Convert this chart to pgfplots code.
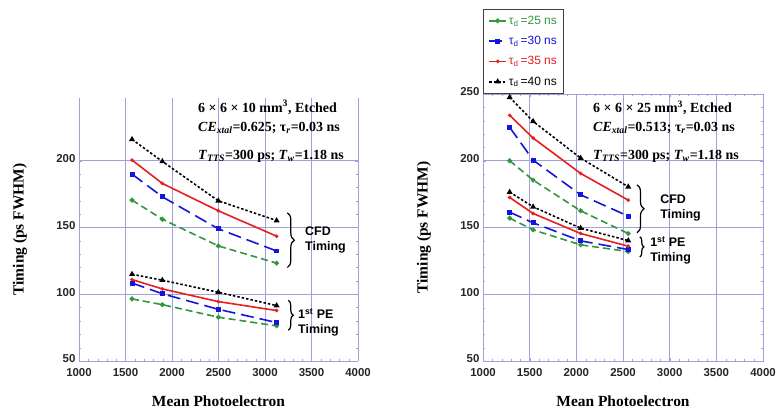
\documentclass[border=0pt]{standalone}
\usepackage{pgfplots}
\pgfplotsset{compat=1.18}
\usepackage{fontspec}
\setmainfont{Liberation Serif}
\setsansfont{Liberation Sans}
\usetikzlibrary{decorations.pathreplacing}
\definecolor{cgreen}{RGB}{50,150,60}
\definecolor{cblue}{RGB}{20,20,220}
\definecolor{cred}{RGB}{230,30,30}
\definecolor{cgrid}{RGB}{160,160,220}
\tikzset{
  ann/.style={font=\rmfamily\bfseries\fontsize{14}{16}\selectfont, anchor=west, inner sep=0pt},
  brc/.style={font=\sffamily\bfseries\fontsize{12.5}{14.5}\selectfont, anchor=west, align=left, inner sep=0pt},
}
\pgfplotsset{
  sA/.style={cgreen, line width=1.6pt, dash pattern=on 7pt off 4pt, mark=*, mark size=1.6pt, mark options={solid}},
  sB/.style={cblue, line width=1.6pt, dash pattern=on 13pt off 6pt, mark=square*, mark size=1.7pt, mark options={solid}},
  sC/.style={cred, line width=1.6pt, solid, mark=*, mark size=0.9pt},
  sD/.style={black, line width=1.6pt, dash pattern=on 2.5pt off 2pt, mark=triangle*, mark size=1.9pt, mark options={solid}},
  common/.style={
    scale only axis, xmin=1000, xmax=4000, ymin=50,
    xtick={1000,1500,...,4000},
    grid=major, major grid style={cgrid, line width=0.6pt},
    axis line style={cgrid, line width=0.8pt},
    tick style={cgrid}, major tick length=3bp, minor tick length=2bp,
    minor x tick num=4, minor y tick num=4,
    tick align=inside,
    /pgf/number format/assume math mode=true,
    /pgf/number format/set thousands separator={},
    tick label style={font=\sffamily\bfseries\fontsize{11.5}{13}\selectfont, text=black!85},
    xticklabel style={yshift=-3.5bp},
    yticklabel style={yshift=2bp},
    label style={font=\rmfamily\bfseries\fontsize{15.5}{17}\selectfont},
    xlabel={Mean Photoelectron}, ylabel={Timing (ps FWHM)},
    xlabel style={at={(axis description cs:0.5,0)}, anchor=center, yshift=-40bp},
    ylabel style={at={(axis description cs:0,0.5)}, anchor=center, yshift=59bp},
    clip=false,
  },
}
\begin{document}
\begin{tikzpicture}
% ---------------- left panel ----------------
\begin{axis}[common, at={(79bp,50bp)}, anchor=south west,
  width=279bp, height=263bp, ymax=247, ytick={50,100,150,200},
  axis x line*=bottom, axis y line*=box]
\addplot[sA] coordinates {(1570,170.5) (1896,156.2) (2498,136.2) (3125,123.3)};
\addplot[sB] coordinates {(1570,190) (1896,173) (2498,149) (3125,132.4)};
\addplot[sC] coordinates {(1570,200.5) (1896,183) (2498,162.5) (3125,143.5)};
\addplot[sD] coordinates {(1570,216) (1896,199.5) (2498,170) (3125,155.2)};
\addplot[sA] coordinates {(1570,96.5) (1896,92.2) (2498,82.8) (3125,76.3)};
\addplot[sB] coordinates {(1570,108.4) (1896,100.4) (2498,88.7) (3125,78.8)};
\addplot[sC] coordinates {(1570,111) (1896,104) (2498,94.5) (3125,87.8)};
\addplot[sD] coordinates {(1570,115) (1896,110.5) (2498,101.5) (3125,91.5)};
\node[ann] at (axis cs:2280,240) {6 × 6 × 10 mm\textsuperscript{3}, Etched};
\node[ann] at (axis cs:2280,224.5) {\textit{CE}\textsubscript{\textit{xtal}}=0.625; τ\textsubscript{\textit{r}}=0.03 ns};
\node[ann] at (axis cs:2280,203.5) {\textit{T}\textsubscript{\textit{TTS}}=300 ps; \textit{T}\textsubscript{\textit{w}}=1.18 ns};
\draw[decorate, decoration={brace, amplitude=7bp}, line width=1.2pt] (axis cs:3240,161) -- (axis cs:3240,120);
\node[brc] at (axis cs:3430,140.6) {CFD\\Timing};
\draw[decorate, decoration={brace, amplitude=5bp}, line width=1.2pt] (axis cs:3250,95.5) -- (axis cs:3250,73);
\node[brc] at (axis cs:3355,79) {1\textsuperscript{st} PE\\Timing};
\end{axis}
% ---------------- right panel ----------------
\begin{axis}[common, at={(483bp,50bp)}, anchor=south west,
  width=280bp, height=267bp, ymax=250, ytick={50,100,150,200,250},
  legend style={at={(0,1)}, anchor=south west, draw=black!75, line width=0.8pt,
    font=\sffamily\fontsize{12}{13}\selectfont, row sep=6.5pt, inner xsep=5pt, inner ysep=5pt,
    cells={anchor=west}},
  legend cell align=left]
\addplot[sA] coordinates {(1286,200) (1537,185.5) (2046,162.5) (2556,145.5)};
\addlegendentry{\textcolor{cgreen}{τ\textsubscript{d}\,=25 ns}}
\addplot[sB] coordinates {(1286,225) (1537,200.5) (2046,174.5) (2556,158.5)};
\addlegendentry{\textcolor{cblue}{τ\textsubscript{d}\,=30 ns}}
\addplot[sC] coordinates {(1286,234) (1537,217) (2046,190.5) (2556,170.5)};
\addlegendentry{\textcolor{cred}{τ\textsubscript{d}\,=35 ns}}
\addplot[sD] coordinates {(1286,247.5) (1537,229.5) (2046,202) (2556,180.5)};
\addlegendentry{τ\textsubscript{d}\,=40 ns}
\addplot[sA, forget plot] coordinates {(1286,157) (1537,148.2) (2046,137) (2556,132)};
\addplot[sB, forget plot] coordinates {(1286,161.5) (1537,153.5) (2046,140) (2556,133.5)};
\addplot[sC, forget plot] coordinates {(1286,172.5) (1537,160.5) (2046,145.5) (2556,136)};
\addplot[sD, forget plot] coordinates {(1286,176.5) (1537,165.5) (2046,149.5) (2556,140.2)};
\node[ann] at (axis cs:2179,239.5) {6 × 6 × 25 mm\textsuperscript{3}, Etched};
\node[ann] at (axis cs:2179,224.5) {\textit{CE}\textsubscript{\textit{xtal}}=0.513; τ\textsubscript{\textit{r}}=0.03 ns};
\node[ann] at (axis cs:2179,203.5) {\textit{T}\textsubscript{\textit{TTS}}=300 ps; \textit{T}\textsubscript{\textit{w}}=1.18 ns};
\draw[decorate, decoration={brace, amplitude=7bp}, line width=1.2pt] (axis cs:2650,182) -- (axis cs:2650,146);
\node[brc] at (axis cs:2897,164.6) {CFD\\Timing};
\draw[decorate, decoration={brace, amplitude=4bp}, line width=1.2pt] (axis cs:2680,143) -- (axis cs:2680,128);
\node[brc] at (axis cs:2790,133) {1\textsuperscript{st} PE\\Timing};
\end{axis}
\pgfresetboundingbox
\useasboundingbox (0,0) rectangle (778bp,411bp);
\end{tikzpicture}
\end{document}
